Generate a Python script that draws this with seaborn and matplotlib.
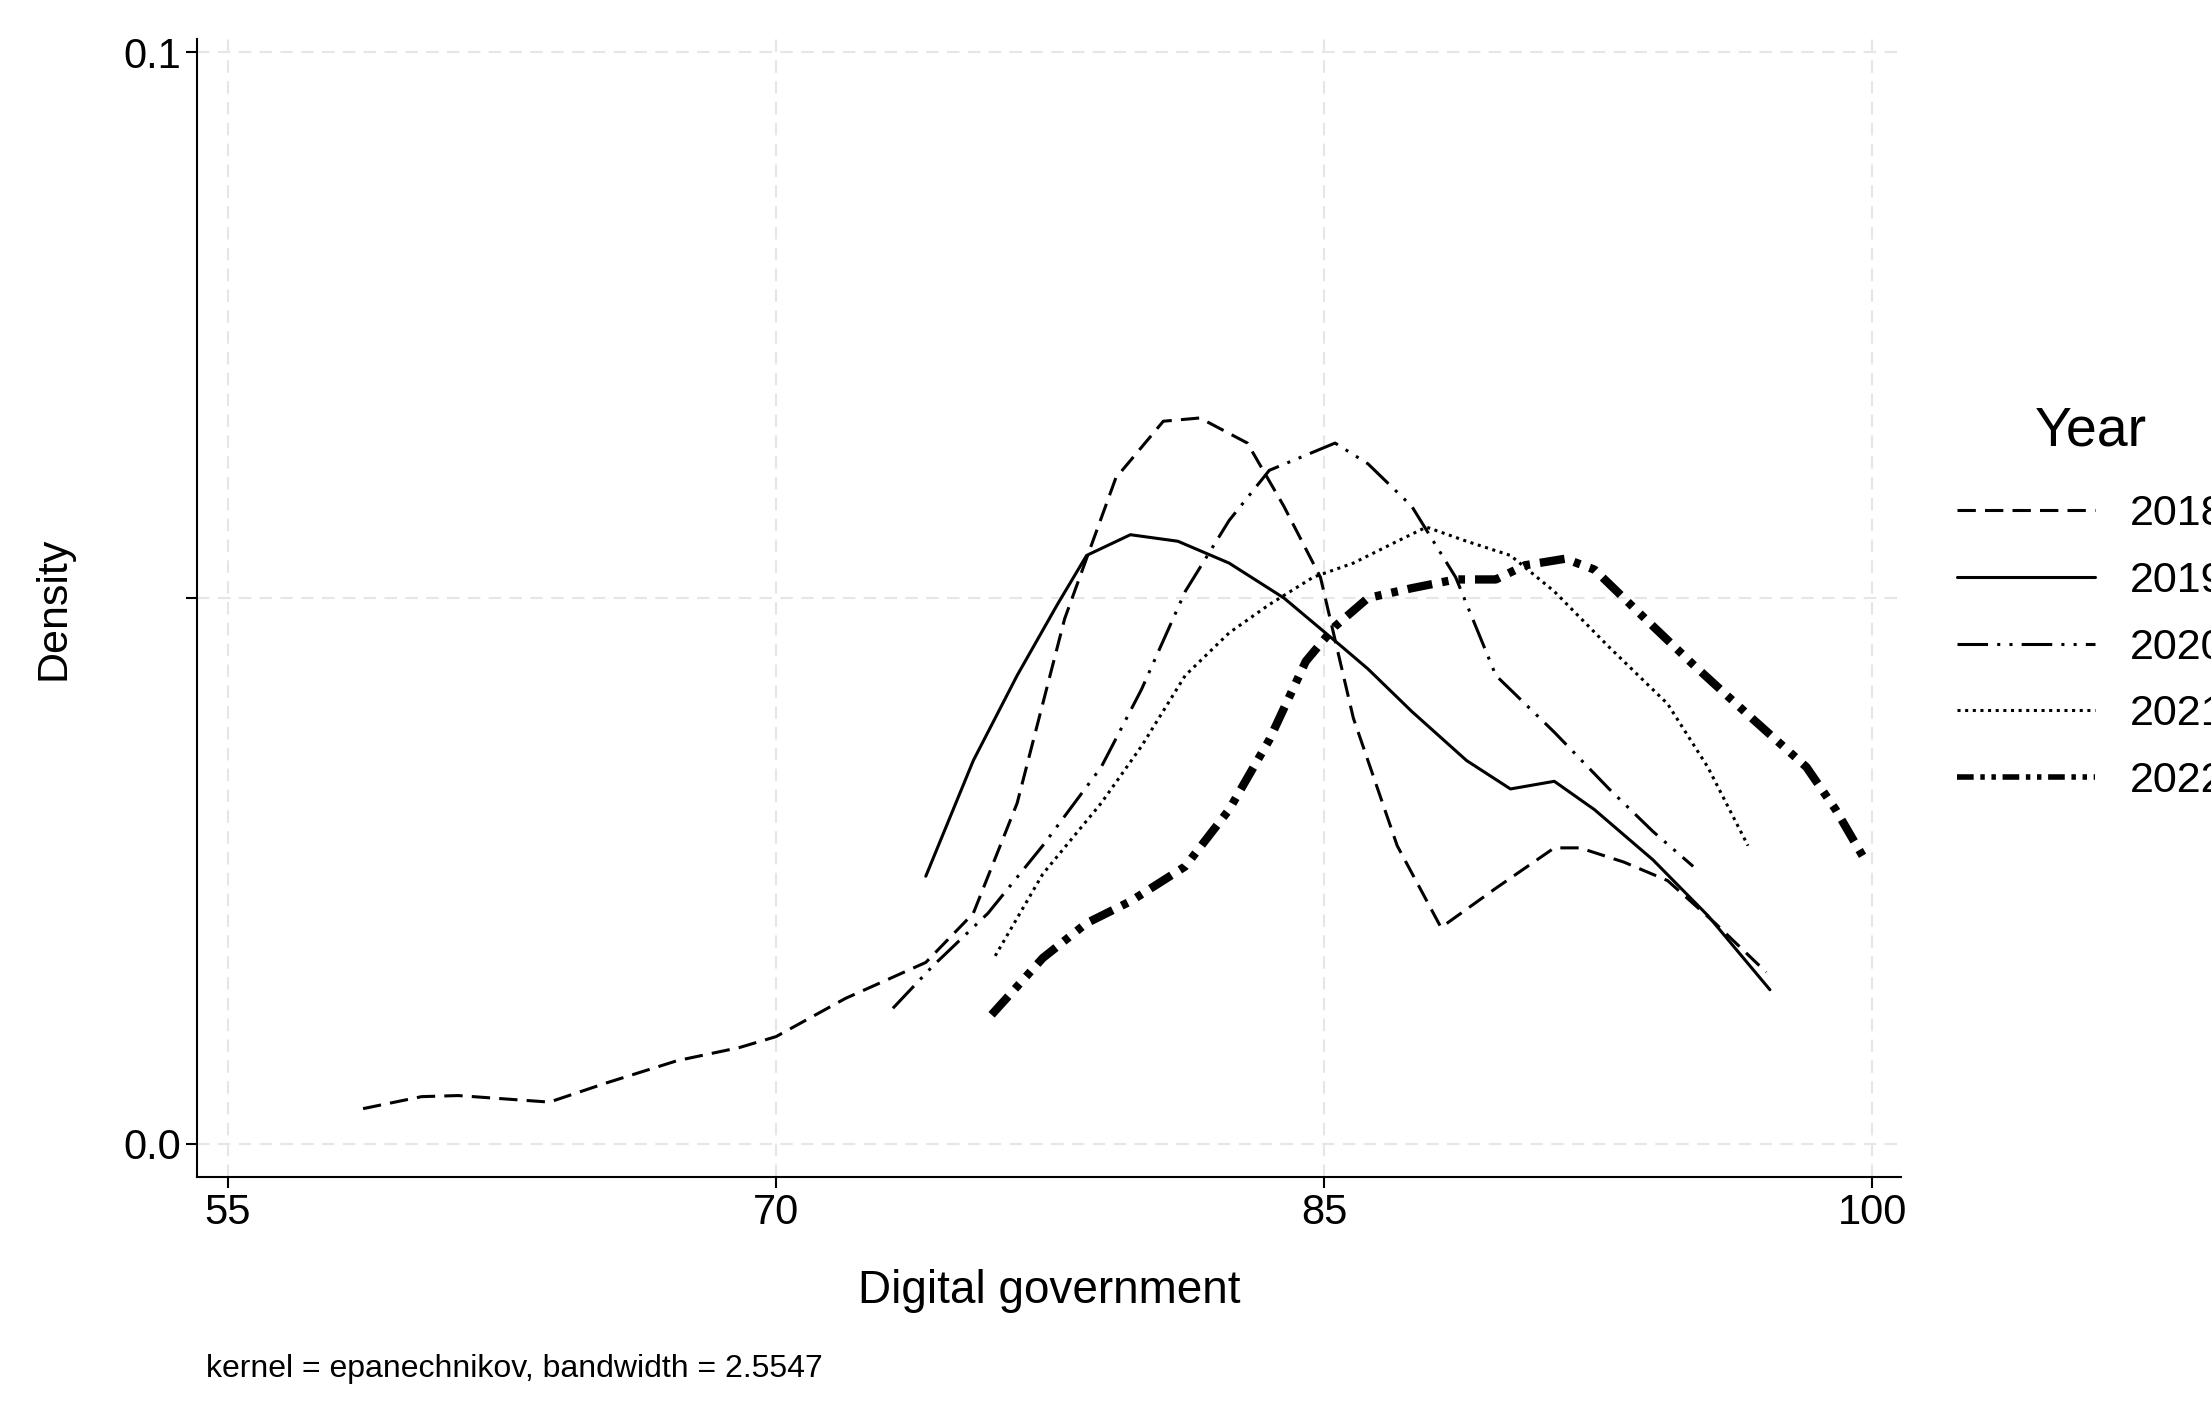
import matplotlib
matplotlib.use("Agg")
import matplotlib.pyplot as plt
import seaborn as sns
import pandas as pd

sns.set_style("white")
plt.rcParams['font.family'] = ['Liberation Sans', 'DejaVu Sans']
plt.rcParams['text.color'] = 'black'
plt.rcParams['axes.labelcolor'] = 'black'
plt.rcParams['xtick.color'] = 'black'
plt.rcParams['ytick.color'] = 'black'

# kernel density curves
x2018 = [58.7, 60.3, 61.3, 63.8, 65.4, 67.3, 69.0, 70.0, 71.9, 74.1, 75.4, 76.6, 77.9, 79.3, 80.6, 81.6, 82.9, 83.9, 84.9, 85.8, 87.0, 88.2, 89.7, 91.3, 92.0, 93.2, 94.4, 95.7, 97.1]
y2018 = [0.0032, 0.0043, 0.0044, 0.0038, 0.0056, 0.0076, 0.0088, 0.0098, 0.0133, 0.0166, 0.0211, 0.0312, 0.0481, 0.0610, 0.0662, 0.0665, 0.0642, 0.0584, 0.0519, 0.0390, 0.0273, 0.0198, 0.0234, 0.0271, 0.0271, 0.0258, 0.0241, 0.0202, 0.0157]
x2019 = [74.1, 75.4, 76.6, 77.7, 78.5, 79.7, 81.0, 82.4, 83.9, 85.5, 86.2, 87.4, 88.9, 90.1, 91.3, 92.4, 94.0, 95.5, 97.2]
y2019 = [0.0245, 0.0351, 0.0429, 0.0494, 0.0539, 0.0558, 0.0552, 0.0532, 0.0500, 0.0455, 0.0435, 0.0396, 0.0351, 0.0325, 0.0332, 0.0306, 0.0260, 0.0209, 0.0141]
x2020 = [73.2, 74.3, 75.8, 77.3, 78.9, 80.0, 81.2, 82.4, 83.5, 85.3, 86.2, 87.4, 88.6, 89.7, 91.3, 92.8, 94.0, 95.1]
y2020 = [0.0124, 0.0163, 0.0211, 0.0273, 0.0345, 0.0416, 0.0506, 0.0571, 0.0617, 0.0642, 0.0623, 0.0584, 0.0519, 0.0429, 0.0377, 0.0325, 0.0286, 0.0254]
x2021 = [76.0, 77.3, 78.9, 80.0, 81.2, 82.4, 83.5, 84.7, 85.8, 87.0, 87.8, 88.9, 90.1, 91.3, 92.8, 94.4, 95.5, 96.6]
y2021 = [0.0172, 0.0247, 0.0312, 0.0364, 0.0429, 0.0468, 0.0494, 0.0519, 0.0532, 0.0552, 0.0565, 0.0552, 0.0539, 0.0506, 0.0455, 0.0403, 0.0345, 0.0273]
x2022 = [75.9, 77.3, 78.5, 79.7, 81.2, 82.4, 83.5, 84.5, 85.3, 86.2, 87.4, 88.6, 89.7, 90.5, 91.6, 92.4, 93.6, 95.1, 96.7, 98.2, 99.0, 99.8]
y2022 = [0.0118, 0.0170, 0.0202, 0.0222, 0.0254, 0.0306, 0.0370, 0.0442, 0.0474, 0.0500, 0.0509, 0.0517, 0.0517, 0.0530, 0.0536, 0.0526, 0.0487, 0.0439, 0.0390, 0.0345, 0.0306, 0.0260]

years = ["2018", "2019", "2020", "2021", "2022"]
curves = [(x2018, y2018), (x2019, y2019), (x2020, y2020), (x2021, y2021), (x2022, y2022)]
styles = {
    "2018": dict(dashes=(6, 3), lw=2.2),
    "2019": dict(dashes=None, lw=2.2),
    "2020": dict(dashes=(10, 3, 1, 3, 1, 3), lw=2.2),
    "2021": dict(dashes=(1, 1.5), lw=2.2),
    "2022": dict(dashes=(3, 1.2, 0.8, 1.2, 0.8, 1.2), lw=6),
}

fig = plt.figure(figsize=(22.11, 14.05), dpi=100)
ax = fig.add_axes([0.089, 0.162, 0.771, 0.81])

for yr, (xs, ys) in zip(years, curves):
    d = pd.DataFrame({"x": xs, "y": ys})
    st = styles[yr]
    line = sns.lineplot(data=d, x="x", y="y", ax=ax, color="black", lw=st["lw"], label=yr).lines[-1]
    if st["dashes"]:
        line.set_dashes(st["dashes"])

ax.set_xlim(54.15, 100.8)
ax.set_ylim(-0.0031, 0.1012)
ax.set_xticks([55, 70, 85, 100])
ax.set_yticks([0.0, 0.05, 0.1])
ax.set_yticklabels(["0.0", "", "0.1"])
ax.grid(True, color="#e6e6e6", linestyle=(0, (6, 4)), lw=1.5)
sns.despine(ax=ax)
for s in ["left", "bottom"]:
    ax.spines[s].set_color("black")
    ax.spines[s].set_linewidth(1.5)
ax.tick_params(axis="both", labelsize=30, length=8, width=1.5, direction="out", left=True, bottom=True)
ax.set_xlabel("Digital government", fontsize=33, labelpad=26)
ax.set_ylabel("Density", fontsize=31, labelpad=36)

leg = ax.legend(title="Year", loc="center left", bbox_to_anchor=(1.01, 0.50), frameon=False,
                fontsize=31, title_fontsize=40, handlelength=3.2, labelspacing=0.62)
leg.get_title().set_position((0, 10))
for h in leg.get_lines():
    h.set_linewidth(min(h.get_linewidth(), 4))

fig.text(0.093, 0.02, "kernel = epanechnikov, bandwidth = 2.5547", fontsize=23)

fig.savefig("out.png", dpi=100)
